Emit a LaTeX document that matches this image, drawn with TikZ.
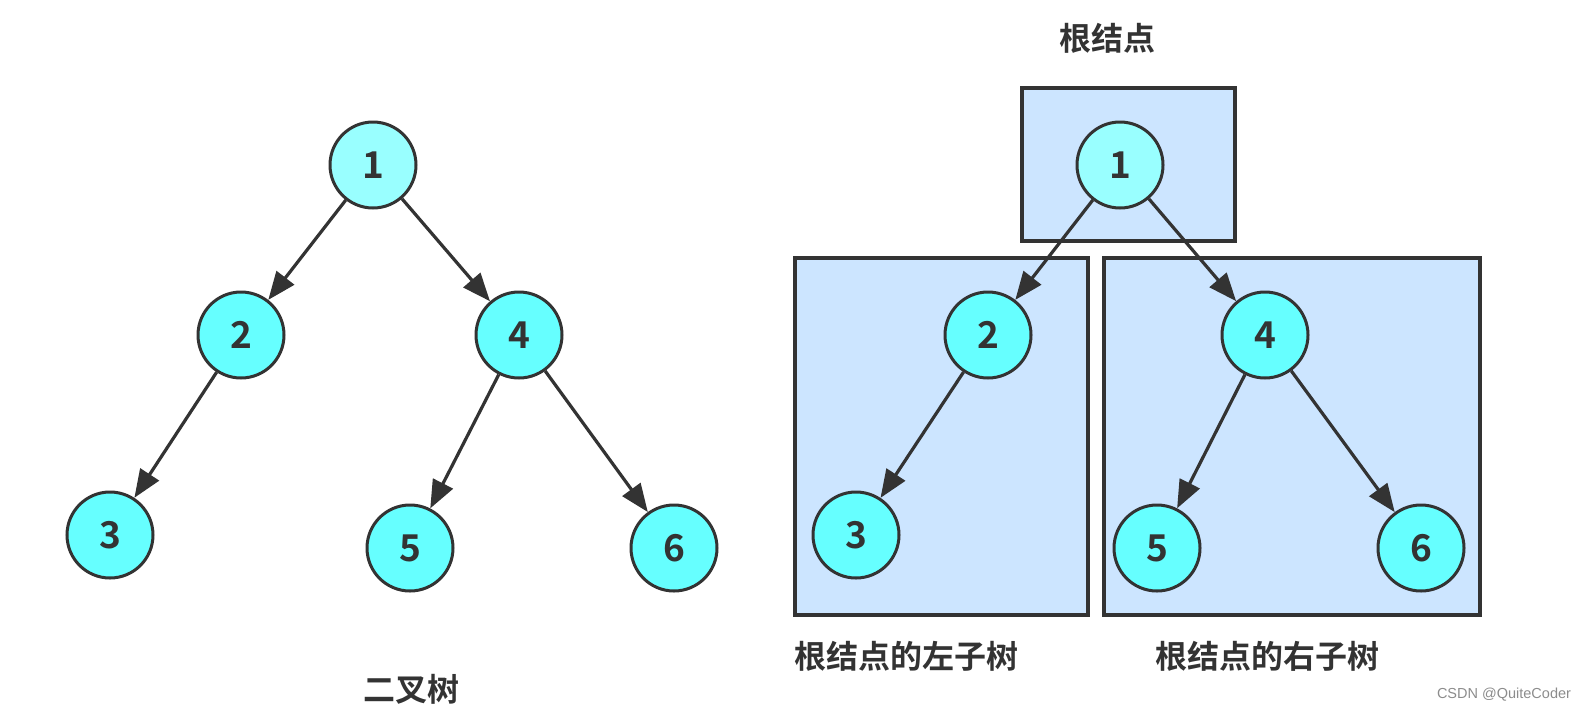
\documentclass[tikz,border=0pt]{standalone}
\usepackage{fontspec}
\setmainfont{Liberation Sans}
\newfontfamily\cjk{Noto Sans CJK SC}[BoldFont={Noto Sans CJK SC Bold}]
\usetikzlibrary{arrows.meta}
\definecolor{ink}{HTML}{333333}
\definecolor{nodefill}{HTML}{66FFFF}
\definecolor{rootfill}{HTML}{99FFFF}
\definecolor{boxfill}{HTML}{CCE5FF}
\tikzset{
  tnode/.style={circle, draw=ink, line width=3pt, fill=nodefill, minimum size=86pt, inner sep=0pt,
    font=\cjk\bfseries\fontsize{37}{37}\selectfont, text=ink},
  rnode/.style={tnode, fill=rootfill},
  conn/.style={draw=ink, line width=3.2pt, -{Triangle[length=28pt 0, width=22pt 0]}},
  subbox/.style={draw=ink, line width=4pt, fill=boxfill},
  caption/.style={font=\cjk\bfseries\fontsize{32}{32}\selectfont, text=ink, inner sep=0pt}
}
\begin{document}
\begin{tikzpicture}[x=1pt,y=-1pt]
\useasboundingbox (0,0) rectangle (1590,713);
% boxes
\draw[subbox] (1022,88) rectangle (1235,241);
\draw[subbox] (795,258) rectangle (1088,615);
\draw[subbox] (1104,258) rectangle (1480,615);
% left tree
\node[rnode] (a1) at (373,165) {1};
\node[tnode] (a2) at (241,335) {2};
\node[tnode] (a4) at (519,335) {4};
\node[tnode] (a3) at (110,535) {3};
\node[tnode] (a5) at (410,548) {5};
\node[tnode] (a6) at (674,548) {6};
\draw[conn] (a1) -- (a2);
\draw[conn] (a1) -- (a4);
\draw[conn] (a2) -- (a3);
\draw[conn] (a4) -- (a5);
\draw[conn] (a4) -- (a6);
% right tree
\node[rnode] (b1) at (1120,165) {1};
\node[tnode] (b2) at (988,335) {2};
\node[tnode] (b4) at (1265,335) {4};
\node[tnode] (b3) at (856,535) {3};
\node[tnode] (b5) at (1157,548) {5};
\node[tnode] (b6) at (1421,548) {6};
\draw[conn] (b1) -- (b2);
\draw[conn] (b1) -- (b4);
\draw[conn] (b2) -- (b3);
\draw[conn] (b4) -- (b5);
\draw[conn] (b4) -- (b6);
% labels
\node[caption] (t1) at (1107,38) {根结点};
\node[caption] (t2) at (906,656) {根结点的左子树};
\node[caption] (t3) at (1267,656) {根结点的右子树};
\node[caption] (t4) at (411,689) {二叉树};
\node[font=\fontsize{14.5}{14.5}\selectfont, text=black!45, inner sep=0pt] (wm) at (1504,695) {CSDN @QuiteCoder};
\end{tikzpicture}
\end{document}
